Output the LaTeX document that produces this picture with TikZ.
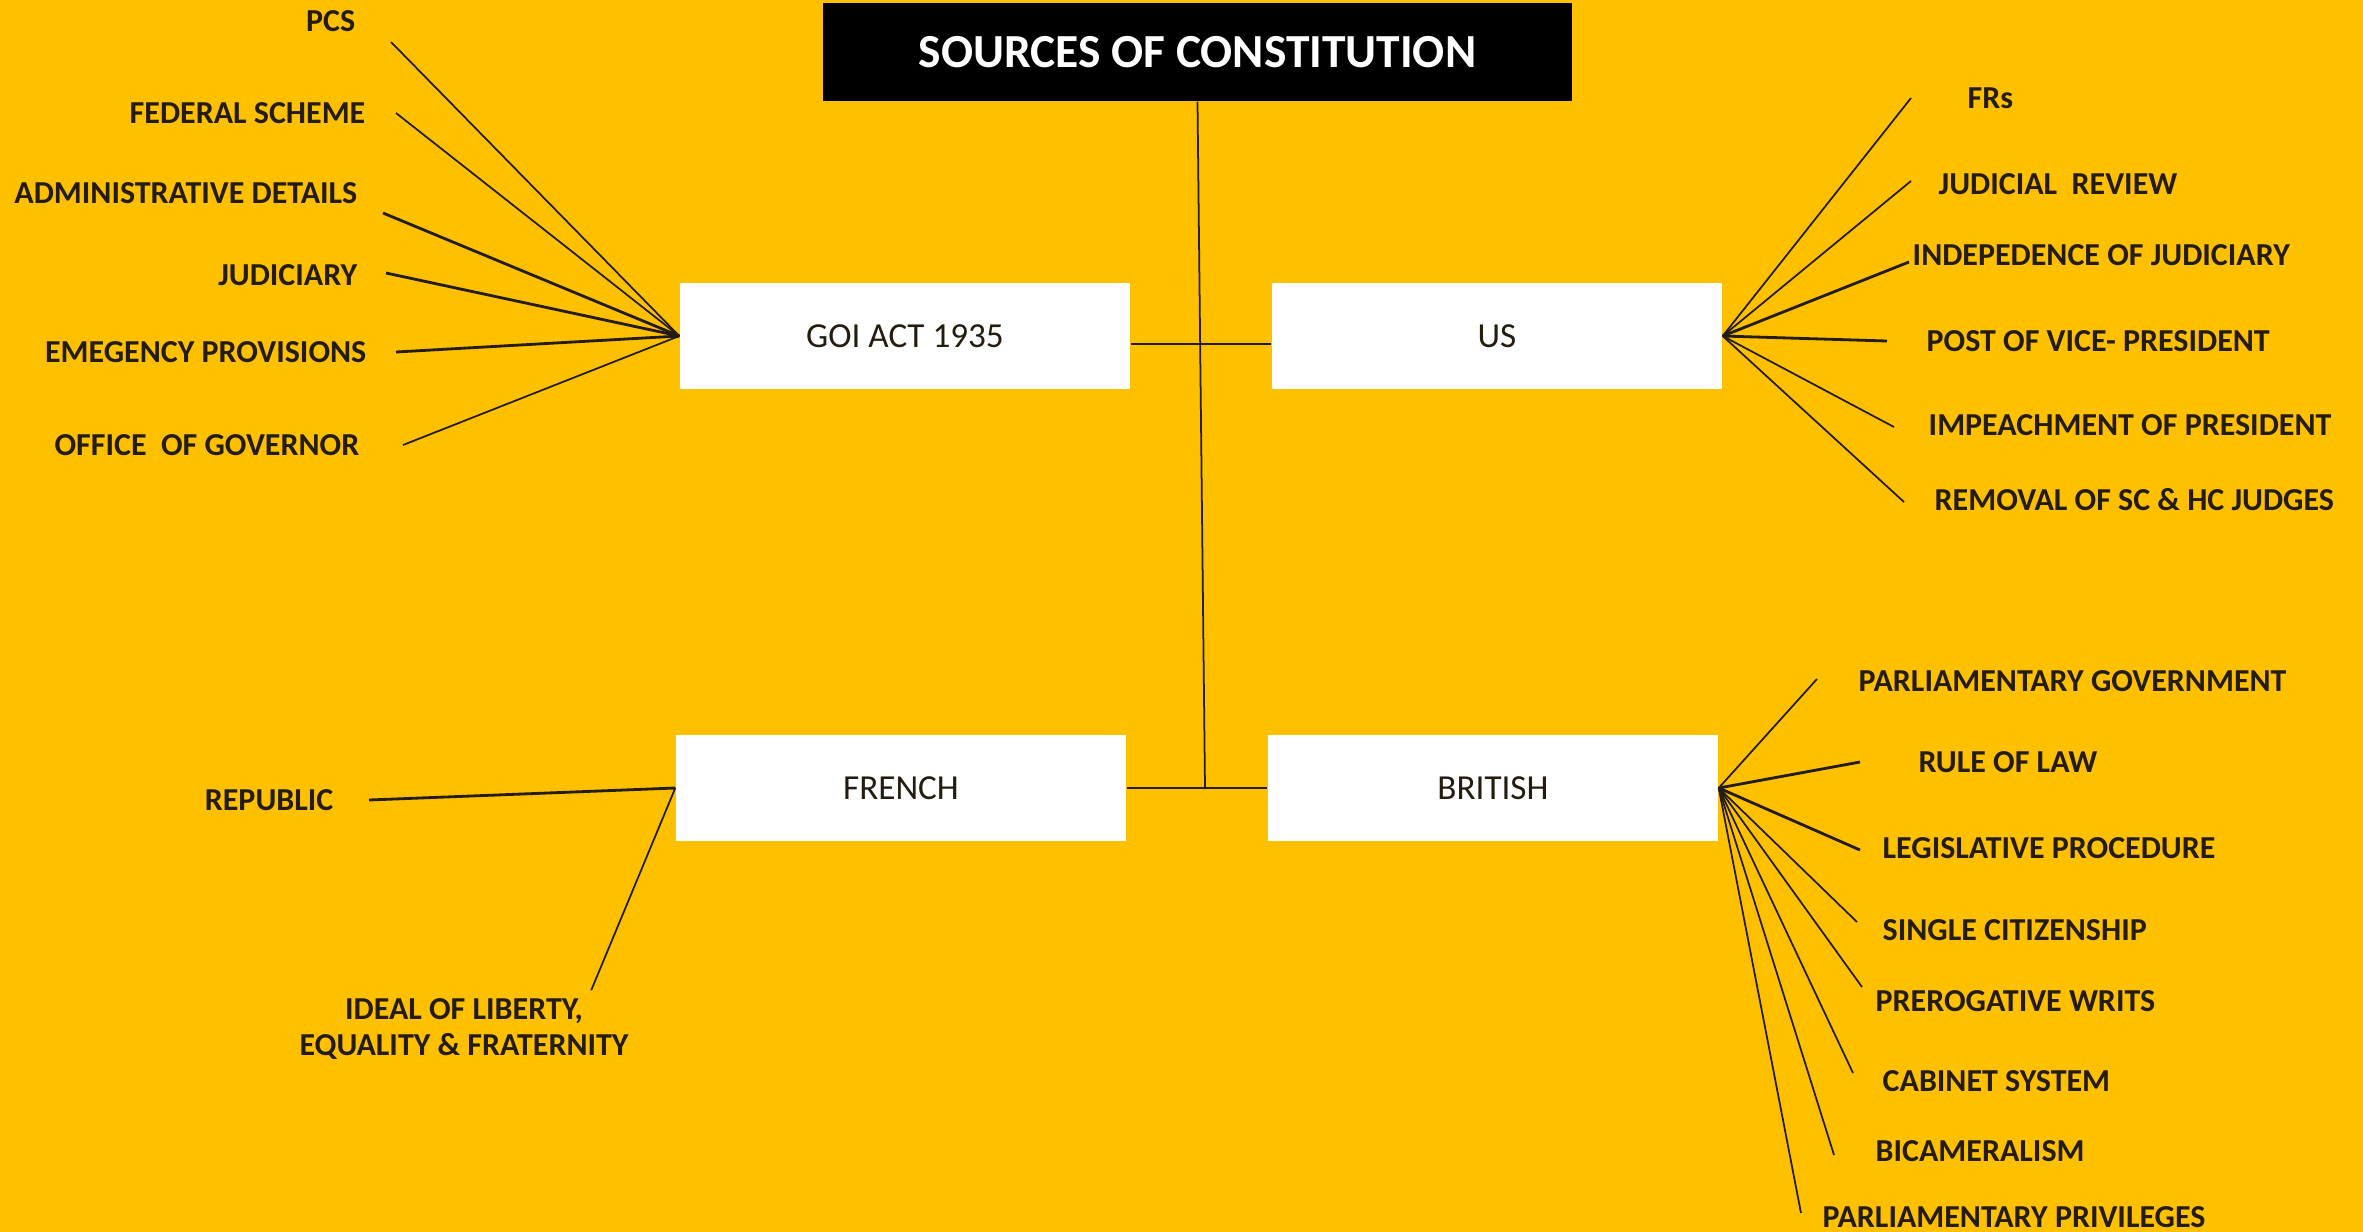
\documentclass[tikz,border=0pt]{standalone}
\usepackage{fontspec}
\setmainfont{Carlito}
\definecolor{gold}{RGB}{255,192,0}
\definecolor{ink}{RGB}{35,28,15}

\begin{document}
\begin{tikzpicture}[
    box/.style={fill=white, inner sep=0pt, minimum width=4.5cm, minimum height=1.06cm, font=\fontsize{10}{12}\selectfont, text=ink},
    item/.style={inner sep=0pt, font=\bfseries\fontsize{9.1}{10.5}\selectfont, text=ink},
    twig/.style={draw=ink, line width=0.5pt},
    twig thick/.style={draw=ink, line width=0.8pt},
  ]
    \fill[gold] (0,0) rectangle (23.63,-12.32);
    \useasboundingbox (0,0) rectangle (23.63,-12.32);

    % title and the four sources
    \node[fill=black, text=white, inner sep=0pt, minimum width=7.49cm, minimum height=0.98cm, font=\bfseries\fontsize{13.5}{16}\selectfont] (title) at (11.975,-0.52) {SOURCES OF CONSTITUTION};
    \node[box] (goi) at (9.05,-3.36) {GOI ACT 1935};
    \node[box] (us) at (14.97,-3.36) {US};
    \node[box] (french) at (9.01,-7.88) {FRENCH};
    \node[box] (british) at (14.93,-7.88) {BRITISH};
    \coordinate (hub) at (12.05,-7.88);

    \draw[twig] (title.south) -- (hub);
    \draw[twig thick] ([yshift=-0.08cm]goi.east) -- ([yshift=-0.08cm]us.west);
    \draw[twig thick] (french) -- (british);

    % GOI act 1935
    \node[item, anchor=east] (pcs) at (3.56,-0.21) {PCS};
    \node[item, anchor=east] (federal) at (3.66,-1.13) {FEDERAL SCHEME};
    \node[item, anchor=east] (admin) at (3.58,-1.93) {ADMINISTRATIVE DETAILS};
    \node[item, anchor=east] (judiciary) at (3.58,-2.75) {JUDICIARY};
    \node[item, anchor=east] (emergency) at (3.67,-3.52) {EMEGENCY PROVISIONS};
    \node[item, anchor=east] (governor) at (3.60,-4.45) {OFFICE\ \ OF GOVERNOR};

    \draw[twig] ([shift={(0.35,-0.21)}]pcs.east) -- (goi.west);
    \draw[twig] ([shift={(0.30,0)}]federal.east) -- (goi.west);
    \draw[twig thick] ([shift={(0.25,-0.20)}]admin.east) -- (goi.west);
    \draw[twig thick] ([shift={(0.28,0.02)}]judiciary.east) -- (goi.west);
    \draw[twig thick] ([shift={(0.29,0)}]emergency.east) -- (goi.west);
    \draw[twig] ([shift={(0.43,0)}]governor.east) -- (goi.west);

    % US
    \node[item, anchor=west] (frs) at (19.67,-0.98) {FRs};
    \node[item, anchor=west] (review) at (19.38,-1.84) {JUDICIAL\ \ REVIEW};
    \node[item, anchor=west] (independence) at (19.12,-2.55) {INDEPEDENCE OF JUDICIARY};
    \node[item, anchor=west] (vicepres) at (19.26,-3.41) {POST OF VICE- PRESIDENT};
    \node[item, anchor=west] (impeach) at (19.28,-4.25) {IMPEACHMENT OF PRESIDENT};
    \node[item, anchor=west] (removal) at (19.34,-5.00) {REMOVAL OF SC \& HC JUDGES};

    \draw[twig] ([shift={(-0.56,0)}]frs.west) -- (us.east);
    \draw[twig] ([shift={(-0.27,0.03)}]review.west) -- (us.east);
    \draw[twig thick] ([shift={(-0.03,-0.07)}]independence.west) -- (us.east);
    \draw[twig thick] ([shift={(-0.39,0)}]vicepres.west) -- (us.east);
    \draw[twig] ([shift={(-0.34,-0.02)}]impeach.west) -- (us.east);
    \draw[twig] ([shift={(-0.30,-0.02)}]removal.west) -- (us.east);

    % British
    \node[item, anchor=west] (parlgov) at (18.58,-6.81) {PARLIAMENTARY GOVERNMENT};
    \node[item, anchor=west] (rulelaw) at (19.18,-7.62) {RULE OF LAW};
    \node[item, anchor=west] (legis) at (18.82,-8.48) {LEGISLATIVE PROCEDURE};
    \node[item, anchor=west] (citizen) at (18.82,-9.30) {SINGLE CITIZENSHIP};
    \node[item, anchor=west] (writs) at (18.75,-10.01) {PREROGATIVE WRITS};
    \node[item, anchor=west] (cabinet) at (18.82,-10.81) {CABINET SYSTEM};
    \node[item, anchor=west] (bicameral) at (18.75,-11.51) {BICAMERALISM};
    \node[item, anchor=west] (privileges) at (18.22,-12.17) {PARLIAMENTARY PRIVILEGES};

    \draw[twig] ([shift={(-0.41,0.02)}]parlgov.west) -- (british.east);
    \draw[twig thick] ([shift={(-0.58,0)}]rulelaw.west) -- (british.east);
    \draw[twig thick] ([shift={(-0.22,-0.02)}]legis.west) -- (british.east);
    \draw[twig] ([shift={(-0.25,0.08)}]citizen.west) -- (british.east);
    \draw[twig] ([shift={(-0.13,0.14)}]writs.west) -- (british.east);
    \draw[twig] ([shift={(-0.29,0.08)}]cabinet.west) -- (british.east);
    \draw[twig] ([shift={(-0.41,-0.04)}]bicameral.west) -- (british.east);
    \draw[twig] ([shift={(-0.21,0.04)}]privileges.west) -- (british.east);

    % French
    \node[item, anchor=east] (republic) at (3.34,-8.00) {REPUBLIC};
    \node[item, align=center] (ideal) at (4.64,-10.29) {IDEAL OF LIBERTY,\\EQUALITY \& FRATERNITY};

    \draw[twig thick] ([shift={(0.35,0)}]republic.east) -- (french.west);
    \draw[twig] ([shift={(-0.38,0.07)}]ideal.north east) -- (french.west);
\end{tikzpicture}
\end{document}
